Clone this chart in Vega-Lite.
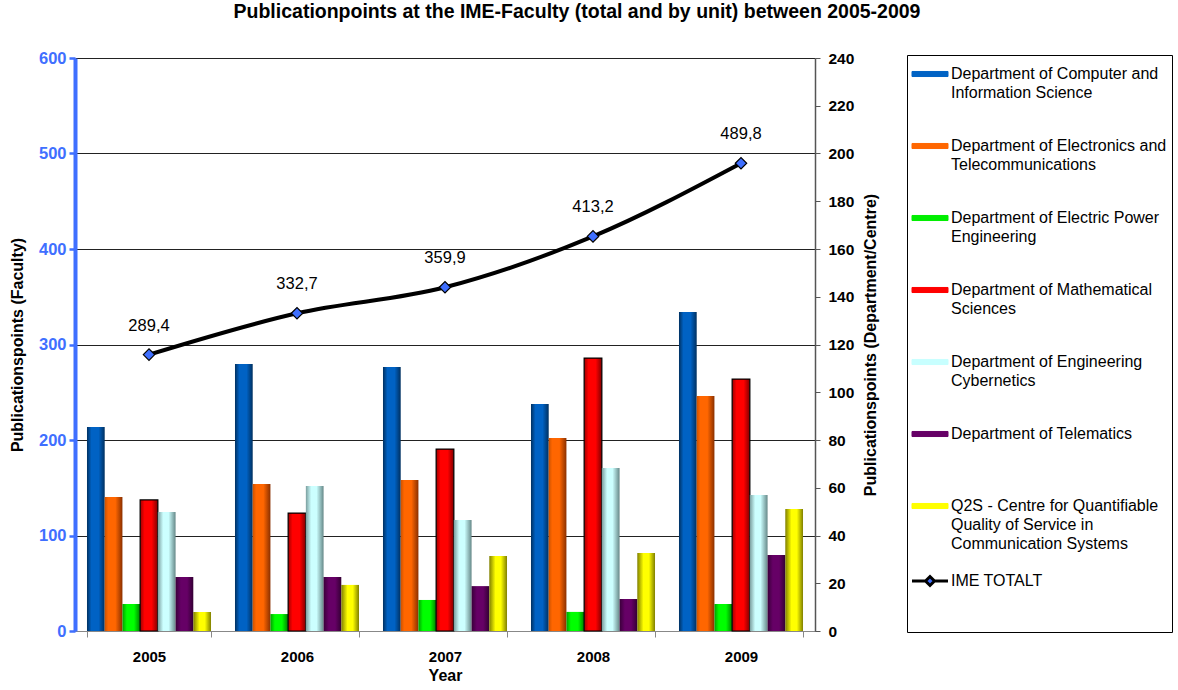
{
  "$schema": "https://vega.github.io/schema/vega-lite/v6.json",
  "width": 740,
  "height": 573,
  "autosize": {"type": "none"},
  "padding": {"left": 75, "top": 58, "right": 363, "bottom": 59},
  "background": "white",
  "config": {
    "font": "Liberation Sans",
    "view": {"stroke": null},
    "locale": {"number": {"decimal": ",", "thousands": ".", "grouping": [3], "currency": ["", ""]}}
  },
  "title": {
    "text": "Publicationpoints at the IME-Faculty (total and by unit) between 2005-2009",
    "fontSize": 19.5,
    "fontWeight": "bold",
    "font": "Liberation Sans",
    "color": "black",
    "dx": 132,
    "offset": 28
  },
  "datasets": {
    "bars": [
      {"year": "2005", "unit": "Department of Computer and Information Science", "points": 85.4},
      {"year": "2005", "unit": "Department of Electronics and Telecommunications", "points": 56.1},
      {"year": "2005", "unit": "Department of Electric Power Engineering", "points": 11.3},
      {"year": "2005", "unit": "Department of Mathematical Sciences", "points": 54.9},
      {"year": "2005", "unit": "Department of Engineering Cybernetics", "points": 49.8},
      {"year": "2005", "unit": "Department of Telematics", "points": 22.6},
      {"year": "2005", "unit": "Q2S - Centre for Quantifiable Quality of Service in Communication Systems", "points": 8.0},
      {"year": "2006", "unit": "Department of Computer and Information Science", "points": 111.8},
      {"year": "2006", "unit": "Department of Electronics and Telecommunications", "points": 61.6},
      {"year": "2006", "unit": "Department of Electric Power Engineering", "points": 7.1},
      {"year": "2006", "unit": "Department of Mathematical Sciences", "points": 49.4},
      {"year": "2006", "unit": "Department of Engineering Cybernetics", "points": 60.7},
      {"year": "2006", "unit": "Department of Telematics", "points": 22.6},
      {"year": "2006", "unit": "Q2S - Centre for Quantifiable Quality of Service in Communication Systems", "points": 19.3},
      {"year": "2007", "unit": "Department of Computer and Information Science", "points": 110.6},
      {"year": "2007", "unit": "Department of Electronics and Telecommunications", "points": 63.2},
      {"year": "2007", "unit": "Department of Electric Power Engineering", "points": 13.0},
      {"year": "2007", "unit": "Department of Mathematical Sciences", "points": 76.2},
      {"year": "2007", "unit": "Department of Engineering Cybernetics", "points": 46.5},
      {"year": "2007", "unit": "Department of Telematics", "points": 18.8},
      {"year": "2007", "unit": "Q2S - Centre for Quantifiable Quality of Service in Communication Systems", "points": 31.4},
      {"year": "2008", "unit": "Department of Computer and Information Science", "points": 95.1},
      {"year": "2008", "unit": "Department of Electronics and Telecommunications", "points": 80.8},
      {"year": "2008", "unit": "Department of Electric Power Engineering", "points": 8.0},
      {"year": "2008", "unit": "Department of Mathematical Sciences", "points": 114.3},
      {"year": "2008", "unit": "Department of Engineering Cybernetics", "points": 68.3},
      {"year": "2008", "unit": "Department of Telematics", "points": 13.4},
      {"year": "2008", "unit": "Q2S - Centre for Quantifiable Quality of Service in Communication Systems", "points": 32.7},
      {"year": "2009", "unit": "Department of Computer and Information Science", "points": 133.6},
      {"year": "2009", "unit": "Department of Electronics and Telecommunications", "points": 98.4},
      {"year": "2009", "unit": "Department of Electric Power Engineering", "points": 11.3},
      {"year": "2009", "unit": "Department of Mathematical Sciences", "points": 105.5},
      {"year": "2009", "unit": "Department of Engineering Cybernetics", "points": 57.0},
      {"year": "2009", "unit": "Department of Telematics", "points": 31.8},
      {"year": "2009", "unit": "Q2S - Centre for Quantifiable Quality of Service in Communication Systems", "points": 51.1}
    ],
    "totals": [
      {"year": "2005", "total": 289.4},
      {"year": "2006", "total": 332.7},
      {"year": "2007", "total": 359.9},
      {"year": "2008", "total": 413.2},
      {"year": "2009", "total": 489.8}
    ]
  },
  "encoding": {
    "x": {
      "field": "year",
      "type": "nominal",
      "scale": {"paddingInner": 0.162, "paddingOuter": 0.081},
      "axis": {
        "title": "Year",
        "titleFontSize": 16,
        "titleFontWeight": "bold",
        "titleColor": "black",
        "titlePadding": 3,
        "labelFontSize": 15,
        "labelFontWeight": "bold",
        "labelColor": "black",
        "labelAngle": 0,
        "labelPadding": 12,
        "tickBand": "extent",
        "domainColor": "#888888",
        "tickColor": "#888888",
        "tickSize": 6,
        "grid": false
      }
    }
  },
  "layer": [
    {
      "data": {"name": "bars"},
      "mark": {"type": "bar", "strokeWidth": 1.2},
      "encoding": {
        "xOffset": {
          "field": "unit",
          "type": "nominal",
          "sort": [
            "Department of Computer and Information Science",
            "Department of Electronics and Telecommunications",
            "Department of Electric Power Engineering",
            "Department of Mathematical Sciences",
            "Department of Engineering Cybernetics",
            "Department of Telematics",
            "Q2S - Centre for Quantifiable Quality of Service in Communication Systems"
          ],
          "scale": {"paddingInner": 0, "paddingOuter": 0}
        },
        "y": {
          "field": "points",
          "type": "quantitative",
          "scale": {"domain": [0, 240]},
          "axis": {
            "orient": "right",
            "values": [0, 20, 40, 60, 80, 100, 120, 140, 160, 180, 200, 220, 240],
            "grid": false,
            "title": "Publicationspoints (Department/Centre)",
            "titleAngle": -90,
            "titleBaseline": "top",
            "titleFontSize": 16,
            "titleFontWeight": "bold",
            "titleColor": "black",
            "titlePadding": 9,
            "labelFontSize": 15.5,
            "labelFontWeight": "bold",
            "labelColor": "black",
            "labelPadding": 8,
            "domainColor": "#555555",
            "domainWidth": 1.5,
            "tickColor": "#555555",
            "tickSize": 5
          }
        },
        "color": {
          "field": "unit",
          "type": "nominal",
          "scale": {
            "domain": [
              "Department of Computer and Information Science",
              "Department of Electronics and Telecommunications",
              "Department of Electric Power Engineering",
              "Department of Mathematical Sciences",
              "Department of Engineering Cybernetics",
              "Department of Telematics",
              "Q2S - Centre for Quantifiable Quality of Service in Communication Systems",
              "IME TOTALT"
            ],
            "range": ["#0062C4", "#FF6600", "#00EE00", "#FF0000", "#C8FFFF", "#660066", "#FFFF00", "#000000"]
          },
          "legend": {
            "orient": "none",
            "legendX": 832,
            "legendY": -3,
            "title": " ",
            "titleFontSize": 4,
            "titlePadding": 2,
            "symbolType": "M-1,-0.14L1,-0.14L1,0.14L-1,0.14Z",
            "symbolSize": 1296,
            "labelFont": "Liberation Sans",
            "labelFontSize": 16,
            "labelColor": "black",
            "labelLimit": 400,
            "labelOffset": 3,
            "strokeColor": "black",
            "fillColor": "white",
            "padding": 5,
            "rowPadding": 18,
            "labelExpr": "datum.label == 'Department of Computer and Information Science' ? ['Department of Computer and', 'Information Science', ''] : datum.label == 'Department of Electronics and Telecommunications' ? ['Department of Electronics and', 'Telecommunications', ''] : datum.label == 'Department of Electric Power Engineering' ? ['Department of Electric Power', 'Engineering', ''] : datum.label == 'Department of Mathematical Sciences' ? ['Department of Mathematical', 'Sciences', ''] : datum.label == 'Department of Engineering Cybernetics' ? ['Department of Engineering', 'Cybernetics', ''] : datum.label == 'Q2S - Centre for Quantifiable Quality of Service in Communication Systems' ? ['Q2S - Centre for Quantifiable', 'Quality of Service in', 'Communication Systems'] : [datum.label, '', '']",
            "encode": {
              "symbols": {
                "update": {
                  "x": {"value": 18},
                  "shape": {"signal": "datum.value === 'IME TOTALT' ? 'M-1,0L-0.25,0M0.25,0L1,0M-0.25,0L0,-0.25L0.25,0L0,0.25Z' : 'M-1,-0.14L1,-0.14L1,0.14L-1,0.14Z'"},
                  "fill": {"signal": "datum.value === 'IME TOTALT' ? '#3F6FFF' : scale('color', datum.value)"},
                  "stroke": {"signal": "datum.value === 'IME TOTALT' || datum.value === 'Department of Mathematical Sciences' ? 'black' : 'transparent'"},
                  "strokeWidth": {"signal": "datum.value === 'IME TOTALT' ? 3 : 1"},
                  "opacity": {"value": 1}
                }
              },
              "labels": {
                "update": {
                  "x": {"value": 39},
                  "baseline": {"value": "middle"},
                  "dy": {"value": 0},
                  "lineHeight": {"value": 19}
                }
              }
            }
          }
        },
        "fill": {
          "condition": [
            {"test": "datum.unit === 'Department of Computer and Information Science'", "value": {"gradient": "linear", "x1": 0, "y1": 0, "x2": 1, "y2": 0, "stops": [{"offset": 0, "color": "#003060"}, {"offset": 0.25, "color": "#0062C4"}, {"offset": 0.65, "color": "#0062C4"}, {"offset": 1, "color": "#003060"}]}},
            {"test": "datum.unit === 'Department of Electronics and Telecommunications'", "value": {"gradient": "linear", "x1": 0, "y1": 0, "x2": 1, "y2": 0, "stops": [{"offset": 0, "color": "#CC5200"}, {"offset": 0.2, "color": "#FF6600"}, {"offset": 0.6, "color": "#FF6600"}, {"offset": 1, "color": "#8A3000"}]}},
            {"test": "datum.unit === 'Department of Electric Power Engineering'", "value": {"gradient": "linear", "x1": 0, "y1": 0, "x2": 1, "y2": 0, "stops": [{"offset": 0, "color": "#00A000"}, {"offset": 0.25, "color": "#00FF00"}, {"offset": 0.65, "color": "#00FF00"}, {"offset": 1, "color": "#008000"}]}},
            {"test": "datum.unit === 'Department of Mathematical Sciences'", "value": {"gradient": "linear", "x1": 0, "y1": 0, "x2": 1, "y2": 0, "stops": [{"offset": 0, "color": "#A00000"}, {"offset": 0.25, "color": "#FF0000"}, {"offset": 0.65, "color": "#FF0000"}, {"offset": 1, "color": "#800000"}]}},
            {"test": "datum.unit === 'Department of Engineering Cybernetics'", "value": {"gradient": "linear", "x1": 0, "y1": 0, "x2": 1, "y2": 0, "stops": [{"offset": 0, "color": "#7A9E9E"}, {"offset": 0.3, "color": "#CCFFFF"}, {"offset": 0.6, "color": "#CCFFFF"}, {"offset": 1, "color": "#668888"}]}},
            {"test": "datum.unit === 'Department of Telematics'", "value": {"gradient": "linear", "x1": 0, "y1": 0, "x2": 1, "y2": 0, "stops": [{"offset": 0, "color": "#3A003A"}, {"offset": 0.3, "color": "#660066"}, {"offset": 0.65, "color": "#660066"}, {"offset": 1, "color": "#330033"}]}}
          ],
          "value": {"gradient": "linear", "x1": 0, "y1": 0, "x2": 1, "y2": 0, "stops": [{"offset": 0, "color": "#808000"}, {"offset": 0.35, "color": "#FFFF00"}, {"offset": 0.65, "color": "#FFFF00"}, {"offset": 1, "color": "#808000"}]}
        },
        "stroke": {
          "condition": {"test": "datum.unit === 'Department of Mathematical Sciences'", "value": "black"},
          "value": null
        }
      }
    },
    {
      "data": {"name": "totals"},
      "layer": [
        {
          "mark": {"type": "line", "interpolate": "monotone", "strokeWidth": 4},
          "encoding": {
            "y": {
              "field": "total",
              "type": "quantitative",
              "scale": {"domain": [0, 600]},
              "axis": {
                "orient": "left",
                "values": [0, 100, 200, 300, 400, 500, 600],
                "grid": true,
                "gridColor": "#222222",
                "gridWidth": 1,
                "domainColor": "#3F6FFF",
                "domainWidth": 4,
                "tickColor": "#3F6FFF",
                "tickWidth": 2.5,
                "tickSize": 6,
                "labelColor": "#3F6FFF",
                "labelFontSize": 16.5,
                "labelFontWeight": "bold",
                "labelPadding": 3,
                "title": "Publicationspoints (Faculty)",
                "titleFontSize": 16,
                "titleFontWeight": "bold",
                "titleColor": "black",
                "titlePadding": 13
              }
            },
            "color": {
              "datum": "IME TOTALT",
              "scale": {
                "domain": [
                  "Department of Computer and Information Science",
                  "Department of Electronics and Telecommunications",
                  "Department of Electric Power Engineering",
                  "Department of Mathematical Sciences",
                  "Department of Engineering Cybernetics",
                  "Department of Telematics",
                  "Q2S - Centre for Quantifiable Quality of Service in Communication Systems",
                  "IME TOTALT"
                ],
                "range": ["#0062C4", "#FF6600", "#00EE00", "#FF0000", "#C8FFFF", "#660066", "#FFFF00", "#000000"]
              },
              "legend": {
                "orient": "none",
                "legendX": 832,
                "legendY": -3,
                "title": " ",
                "titleFontSize": 4,
                "titlePadding": 2,
                "symbolType": "M-1,-0.14L1,-0.14L1,0.14L-1,0.14Z",
                "symbolSize": 1296,
                "labelFont": "Liberation Sans",
                "labelFontSize": 16,
                "labelColor": "black",
                "labelLimit": 400,
                "labelOffset": 3,
                "strokeColor": "black",
                "fillColor": "white",
                "padding": 5,
                "rowPadding": 18,
                "labelExpr": "datum.label == 'Department of Computer and Information Science' ? ['Department of Computer and', 'Information Science', ''] : datum.label == 'Department of Electronics and Telecommunications' ? ['Department of Electronics and', 'Telecommunications', ''] : datum.label == 'Department of Electric Power Engineering' ? ['Department of Electric Power', 'Engineering', ''] : datum.label == 'Department of Mathematical Sciences' ? ['Department of Mathematical', 'Sciences', ''] : datum.label == 'Department of Engineering Cybernetics' ? ['Department of Engineering', 'Cybernetics', ''] : datum.label == 'Q2S - Centre for Quantifiable Quality of Service in Communication Systems' ? ['Q2S - Centre for Quantifiable', 'Quality of Service in', 'Communication Systems'] : [datum.label, '', '']",
                "encode": {
                  "symbols": {
                    "update": {
                      "x": {"value": 18},
                      "shape": {"signal": "datum.value === 'IME TOTALT' ? 'M-1,0L-0.25,0M0.25,0L1,0M-0.25,0L0,-0.25L0.25,0L0,0.25Z' : 'M-1,-0.14L1,-0.14L1,0.14L-1,0.14Z'"},
                      "fill": {"signal": "datum.value === 'IME TOTALT' ? '#3F6FFF' : scale('color', datum.value)"},
                      "stroke": {"signal": "datum.value === 'IME TOTALT' || datum.value === 'Department of Mathematical Sciences' ? 'black' : 'transparent'"},
                      "strokeWidth": {"signal": "datum.value === 'IME TOTALT' ? 3 : 1"},
                      "opacity": {"value": 1}
                    }
                  },
                  "labels": {
                    "update": {
                      "x": {"value": 39},
                      "baseline": {"value": "middle"},
                      "dy": {"value": 0},
                      "lineHeight": {"value": 19}
                    }
                  }
                }
              }
            }
          }
        },
        {
          "mark": {"type": "point", "shape": "diamond", "filled": true, "fill": "#3F6FFF", "stroke": "black", "strokeWidth": 1.2, "size": 130, "opacity": 1},
          "encoding": {
            "y": {"field": "total", "type": "quantitative"}
          }
        },
        {
          "mark": {"type": "text", "dy": -29, "fontSize": 16.5, "font": "Liberation Sans", "color": "black"},
          "encoding": {
            "y": {"field": "total", "type": "quantitative"},
            "text": {"field": "total", "type": "quantitative", "format": ".1f"}
          }
        }
      ]
    }
  ],
  "resolve": {"scale": {"y": "independent"}, "axis": {"y": "independent"}}
}
